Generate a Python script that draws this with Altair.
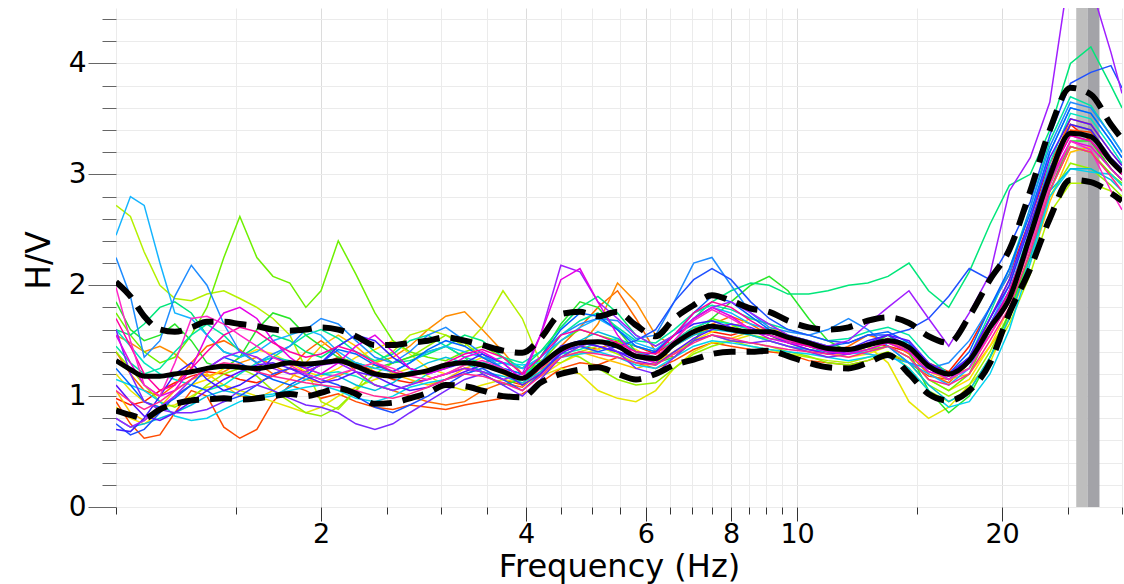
import altair as alt
import pandas as pd

# ---------------- data ----------------
FREQ = [1.0, 1.05, 1.1, 1.16, 1.22, 1.29, 1.36, 1.44, 1.52, 1.61,
        1.7, 1.8, 1.9, 2.0, 2.12, 2.25, 2.4, 2.55, 2.7, 2.87,
        3.05, 3.25, 3.45, 3.7, 3.95, 4.2, 4.5, 4.8, 5.1, 5.45,
        5.8, 6.2, 6.6, 7.05, 7.5, 8.0, 8.55, 9.1, 9.7, 10.4,
        11.1, 11.9, 12.7, 13.6, 14.6, 15.6, 16.7, 17.9, 19.2, 20.5,
        22.0, 23.5, 25.2, 27.0, 28.9, 30.0]

MEAN = [1.32, 1.24, 1.18, 1.18, 1.20, 1.22, 1.25, 1.27, 1.26, 1.25,
        1.27, 1.30, 1.29, 1.30, 1.32, 1.27, 1.20, 1.18, 1.20, 1.23,
        1.28, 1.30, 1.28, 1.22, 1.16, 1.28, 1.42, 1.48, 1.49, 1.45,
        1.36, 1.34, 1.47, 1.58, 1.63, 1.60, 1.58, 1.58, 1.53, 1.48,
        1.43, 1.42, 1.46, 1.50, 1.44, 1.27, 1.20, 1.32, 1.62, 1.88,
        2.45, 2.98, 3.37, 3.34, 3.12, 3.02]

UPPER = [2.03, 1.90, 1.72, 1.60, 1.58, 1.62, 1.67, 1.67, 1.65, 1.63,
         1.60, 1.59, 1.60, 1.62, 1.60, 1.54, 1.46, 1.46, 1.48, 1.50,
         1.53, 1.50, 1.46, 1.41, 1.39, 1.52, 1.74, 1.76, 1.72, 1.76,
         1.64, 1.54, 1.70, 1.82, 1.91, 1.86, 1.79, 1.76, 1.68, 1.62,
         1.60, 1.62, 1.68, 1.71, 1.66, 1.54, 1.48, 1.72, 2.05, 2.32,
         2.85, 3.40, 3.78, 3.72, 3.45, 3.32]

LOWER = [0.87, 0.83, 0.80, 0.88, 0.93, 0.96, 0.97, 0.98, 0.97, 0.98,
         1.00, 1.02, 1.00, 1.03, 1.07, 1.02, 0.93, 0.94, 0.98, 1.03,
         1.10, 1.09, 1.05, 1.00, 0.99, 1.12, 1.20, 1.24, 1.26, 1.20,
         1.15, 1.20, 1.28, 1.33, 1.38, 1.40, 1.40, 1.41, 1.36, 1.30,
         1.26, 1.25, 1.30, 1.37, 1.20, 1.02, 0.96, 1.05, 1.30, 1.75,
         2.15, 2.60, 2.95, 2.93, 2.83, 2.76]

W00 = [0.98, 0.92, 0.95, 1.05, 1.12, 1.18, 1.22, 1.20, 1.15, 1.12,
       1.18, 1.25, 1.22, 1.28, 1.35, 1.30, 1.22, 1.15, 1.12, 1.15,
       1.20, 1.25, 1.22, 1.15, 1.10, 1.25, 1.40, 1.45, 1.42, 1.50,
       1.45, 1.38, 1.50, 1.62, 1.58, 1.55, 1.60, 1.55, 1.50, 1.45,
       1.40, 1.42, 1.48, 1.45, 1.40, 1.30, 1.22, 1.45, 1.80, 2.10,
       2.60, 3.10, 3.45, 3.30, 3.05, 2.95]
W01 = [0.95, 0.75, 0.62, 0.65, 0.85, 1.05, 1.00, 0.72, 0.62, 0.70,
       0.95, 1.10, 1.05, 0.98, 1.02, 0.95, 0.90, 0.88, 0.92, 0.90,
       0.88, 0.92, 0.95, 0.98, 1.02, 1.12, 1.25, 1.30, 1.28, 1.35,
       1.30, 1.25, 1.32, 1.42, 1.48, 1.45, 1.42, 1.40, 1.38, 1.32,
       1.30, 1.28, 1.32, 1.38, 1.30, 1.18, 1.15, 1.30, 1.60, 1.95,
       2.45, 3.00, 3.40, 3.38, 3.10, 3.00]
W02 = [1.55, 1.48, 1.40, 1.45, 1.38, 1.25, 1.18, 1.22, 1.30, 1.35,
       1.28, 1.20, 1.15, 1.12, 1.18, 1.25, 1.30, 1.35, 1.45, 1.60,
       1.72, 1.76, 1.60, 1.40, 1.20, 1.25, 1.35, 1.45, 1.65, 2.02,
       1.85, 1.55, 1.45, 1.55, 1.62, 1.65, 1.60, 1.55, 1.50, 1.45,
       1.40, 1.38, 1.42, 1.48, 1.42, 1.28, 1.18, 1.25, 1.55, 1.85,
       2.35, 2.90, 3.45, 3.40, 3.15, 3.05]
W03 = [1.05, 0.85, 0.78, 0.90, 1.05, 1.15, 1.20, 1.10, 1.00, 0.98,
       1.05, 1.15, 1.30, 1.45, 1.55, 1.45, 1.30, 1.20, 1.15, 1.10,
       1.15, 1.25, 1.30, 1.20, 1.10, 1.20, 1.35, 1.40, 1.35, 1.30,
       1.25, 1.30, 1.40, 1.50, 1.55, 1.52, 1.58, 1.62, 1.55, 1.48,
       1.45, 1.40, 1.42, 1.48, 1.40, 1.22, 1.15, 1.20, 1.45, 1.70,
       2.20, 2.75, 3.20, 3.25, 3.05, 2.95]
W04 = [1.20, 1.05, 0.95, 0.90, 0.92, 1.00, 1.08, 1.10, 1.05, 1.00,
       0.95, 0.90, 0.85, 0.90, 1.00, 1.08, 1.15, 1.20, 1.25, 1.18,
       1.10, 1.05, 1.10, 1.15, 1.12, 1.18, 1.25, 1.20, 1.05, 0.98,
       0.95, 1.05, 1.25, 1.40, 1.48, 1.50, 1.55, 1.50, 1.45, 1.40,
       1.35, 1.38, 1.45, 1.30, 0.95, 0.80, 0.90, 1.10, 1.30, 1.70,
       2.30, 2.85, 3.25, 3.20, 3.00, 2.90]
W05 = [2.72, 2.62, 2.30, 2.00, 1.88, 1.86, 1.92, 1.95, 1.88, 1.80,
       1.70, 1.55, 1.25, 0.95, 0.88, 1.05, 1.30, 1.40, 1.55, 1.60,
       1.55, 1.45, 1.62, 1.95, 1.70, 1.30, 1.30, 1.40, 1.45, 1.38,
       1.30, 1.28, 1.40, 1.50, 1.55, 1.50, 1.45, 1.42, 1.38, 1.35,
       1.32, 1.30, 1.35, 1.40, 1.25, 1.05, 0.95, 1.05, 1.35, 1.65,
       2.10, 2.65, 2.92, 2.92, 2.85, 2.78]
W06 = [1.75, 1.55, 1.40, 1.30, 1.35, 1.55, 1.80, 2.25, 2.62, 2.25,
       2.08, 2.02, 1.80, 1.95, 2.40, 2.10, 1.75, 1.50, 1.40, 1.35,
       1.32, 1.40, 1.45, 1.35, 1.20, 1.30, 1.50, 1.60, 1.55, 1.50,
       1.40, 1.35, 1.45, 1.60, 1.70, 1.65, 1.55, 1.52, 1.50, 1.45,
       1.40, 1.38, 1.42, 1.45, 1.35, 1.15, 1.05, 1.20, 1.60, 1.90,
       2.40, 2.95, 3.25, 3.20, 3.00, 2.92]
W07 = [1.85, 1.60, 1.50, 1.55, 1.65, 1.50, 1.30, 1.25, 1.35, 1.60,
       1.75, 1.70, 1.55, 1.45, 1.35, 1.30, 1.25, 1.30, 1.35, 1.40,
       1.45, 1.35, 1.20, 1.10, 1.15, 1.35, 1.65, 1.85, 1.80, 1.60,
       1.40, 1.30, 1.35, 1.50, 1.70, 1.85, 2.00, 2.08, 1.95, 1.70,
       1.50, 1.40, 1.45, 1.55, 1.40, 1.05, 0.85, 1.00, 1.35, 1.75,
       2.30, 2.85, 3.30, 3.30, 3.05, 2.95]
W08 = [1.60, 1.55, 1.65, 1.80, 1.85, 1.75, 1.55, 1.40, 1.35, 1.45,
       1.55, 1.50, 1.40, 1.35, 1.45, 1.55, 1.40, 1.30, 1.32, 1.38,
       1.45, 1.55, 1.50, 1.35, 1.25, 1.40, 1.62, 1.80, 1.90, 1.75,
       1.55, 1.45, 1.55, 1.70, 1.85, 1.95, 2.02, 2.00, 1.92, 1.92,
       1.95, 2.00, 2.02, 2.08, 2.20, 1.95, 1.80, 2.12, 2.55, 2.90,
       3.00, 3.40, 4.00, 4.15, 3.80, 3.60]
W09 = [1.60, 1.45, 1.30, 1.20, 1.15, 1.10, 1.05, 1.10, 1.20, 1.30,
       1.35, 1.32, 1.25, 1.20, 1.22, 1.18, 1.10, 1.05, 1.10, 1.20,
       1.28, 1.32, 1.30, 1.25, 1.20, 1.28, 1.38, 1.42, 1.48, 1.52,
       1.45, 1.40, 1.50, 1.62, 1.68, 1.65, 1.60, 1.58, 1.55, 1.50,
       1.45, 1.42, 1.45, 1.52, 1.48, 1.30, 1.15, 1.25, 1.60, 1.95,
       2.50, 3.10, 3.55, 3.50, 3.25, 3.10]
W10 = [1.15, 1.10, 1.05, 0.95, 0.82, 0.78, 0.80, 0.88, 0.95, 1.00,
       1.02, 1.05, 1.08, 1.10, 1.05, 0.98, 0.95, 1.00, 1.08, 1.12,
       1.15, 1.20, 1.25, 1.30, 1.28, 1.30, 1.35, 1.38, 1.40, 1.35,
       1.28, 1.25, 1.35, 1.45, 1.50, 1.48, 1.45, 1.42, 1.40, 1.38,
       1.35, 1.32, 1.35, 1.38, 1.25, 1.05, 0.90, 0.95, 1.20, 1.60,
       2.20, 2.80, 3.05, 3.02, 3.00, 2.90]
W11 = [2.45, 2.80, 2.72, 2.20, 1.75, 1.70, 1.55, 1.40, 1.35, 1.40,
       1.50, 1.55, 1.60, 1.55, 1.40, 1.30, 1.25, 1.22, 1.30, 1.40,
       1.45, 1.40, 1.35, 1.30, 1.25, 1.35, 1.50, 1.62, 1.70, 1.60,
       1.48, 1.42, 1.55, 1.70, 1.80, 1.75, 1.65, 1.60, 1.55, 1.50,
       1.45, 1.40, 1.38, 1.35, 1.30, 1.20, 1.10, 1.25, 1.65, 2.00,
       2.60, 3.20, 3.60, 3.55, 3.30, 3.15]
W12 = [2.25, 1.90, 1.35, 1.50, 1.90, 2.18, 2.00, 1.65, 1.40, 1.30,
       1.38, 1.45, 1.60, 1.70, 1.65, 1.50, 1.35, 1.30, 1.40, 1.55,
       1.62, 1.50, 1.38, 1.25, 1.15, 1.30, 1.55, 1.65, 1.70, 1.68,
       1.52, 1.55, 1.85, 2.20, 2.25, 2.00, 1.75, 1.62, 1.58, 1.55,
       1.60, 1.70, 1.60, 1.45, 1.30, 1.25, 1.30, 1.50, 1.80, 2.10,
       2.70, 3.25, 3.65, 3.60, 3.35, 3.20]
W13 = [0.75, 0.65, 0.70, 0.85, 1.00, 1.10, 1.05, 0.95, 1.00, 1.10,
       1.20, 1.25, 1.20, 1.15, 1.10, 1.00, 0.90, 0.85, 0.92, 1.00,
       1.10, 1.20, 1.25, 1.15, 1.05, 1.20, 1.40, 1.45, 1.40, 1.45,
       1.50, 1.60, 1.85, 2.05, 2.15, 2.05, 1.85, 1.70, 1.60, 1.55,
       1.50, 1.48, 1.55, 1.55, 1.60, 1.70, 1.90, 2.15, 2.05, 2.35,
       2.75, 3.35, 3.82, 3.92, 3.98, 3.78]
W14 = [0.70, 0.68, 0.80, 1.00, 1.20, 1.30, 1.15, 1.05, 1.10, 1.20,
       1.35, 1.30, 1.25, 1.30, 1.45, 1.55, 1.50, 1.35, 1.25, 1.20,
       1.25, 1.30, 1.38, 1.30, 1.15, 1.25, 1.45, 1.50, 1.45, 1.40,
       1.35, 1.40, 1.55, 1.65, 1.68, 1.62, 1.58, 1.55, 1.50, 1.45,
       1.40, 1.42, 1.50, 1.55, 1.45, 1.25, 1.18, 1.35, 1.70, 2.00,
       2.55, 3.05, 3.45, 3.40, 3.15, 3.05]
W15 = [1.60, 1.20, 0.95, 0.88, 0.85, 0.85, 0.88, 0.95, 1.05, 1.10,
       1.05, 0.98, 0.92, 0.90, 0.85, 0.75, 0.70, 0.75, 0.85, 0.95,
       1.05, 1.15, 1.20, 1.10, 1.00, 1.15, 1.35, 1.45, 1.50, 1.40,
       1.25, 1.20, 1.35, 1.50, 1.55, 1.50, 1.48, 1.50, 1.45, 1.40,
       1.35, 1.38, 1.45, 1.52, 1.45, 1.25, 1.15, 1.30, 1.65, 1.95,
       2.45, 3.00, 3.35, 3.30, 3.10, 3.00]
W16 = [0.80, 0.72, 0.78, 0.90, 1.00, 1.15, 1.25, 1.35, 1.40, 1.35,
       1.25, 1.20, 1.22, 1.28, 1.30, 1.22, 1.10, 1.05, 1.10, 1.15,
       1.20, 1.25, 1.22, 1.15, 1.20, 1.55, 2.18, 2.12, 1.85, 1.70,
       1.55, 1.45, 1.55, 1.70, 1.80, 1.85, 1.75, 1.65, 1.55, 1.50,
       1.45, 1.50, 1.65, 1.80, 1.95, 1.70, 1.45, 1.75, 2.10, 2.85,
       3.15, 3.65, 4.90, 4.70, 4.10, 3.73]
W17 = [1.55, 1.30, 1.10, 1.00, 1.05, 1.25, 1.55, 1.75, 1.80, 1.70,
       1.50, 1.35, 1.25, 1.20, 1.30, 1.45, 1.55, 1.40, 1.25, 1.20,
       1.25, 1.35, 1.40, 1.30, 1.15, 1.55, 2.05, 2.15, 1.85, 1.55,
       1.35, 1.30, 1.50, 1.70, 1.80, 1.72, 1.60, 1.52, 1.48, 1.45,
       1.40, 1.38, 1.42, 1.48, 1.40, 1.22, 1.18, 1.30, 1.55, 1.85,
       2.40, 2.95, 3.30, 3.25, 3.05, 2.95]
W18 = [1.98, 1.50, 1.10, 1.00, 1.30, 1.70, 1.72, 1.65, 1.55, 1.45,
       1.35, 1.28, 1.20, 1.15, 1.20, 1.25, 1.30, 1.25, 1.18, 1.15,
       1.20, 1.28, 1.32, 1.25, 1.15, 1.25, 1.40, 1.48, 1.50, 1.45,
       1.38, 1.35, 1.50, 1.68, 1.78, 1.70, 1.60, 1.55, 1.50, 1.48,
       1.42, 1.40, 1.45, 1.50, 1.42, 1.25, 1.15, 1.25, 1.55, 1.85,
       2.35, 2.90, 3.30, 3.22, 2.85, 2.68]
W19 = [1.05, 0.95, 0.88, 0.95, 1.05, 1.15, 1.25, 1.30, 1.28, 1.22,
       1.18, 1.15, 1.12, 1.10, 1.08, 1.05, 1.00, 0.98, 1.02, 1.08,
       1.15, 1.20, 1.18, 1.12, 1.05, 1.18, 1.35, 1.40, 1.38, 1.35,
       1.30, 1.28, 1.38, 1.48, 1.55, 1.52, 1.48, 1.45, 1.42, 1.40,
       1.38, 1.35, 1.40, 1.45, 1.35, 1.15, 1.10, 1.20, 1.50, 1.80,
       2.30, 2.85, 3.25, 3.20, 2.98, 2.85]
W20 = [1.40, 1.20, 1.05, 1.00, 1.10, 1.30, 1.45, 1.50, 1.42, 1.30,
       1.20, 1.25, 1.40, 1.50, 1.38, 1.22, 1.10, 1.05, 1.00, 0.95,
       0.92, 0.95, 1.05, 1.12, 1.08, 1.22, 1.45, 1.62, 1.80, 1.95,
       1.70, 1.40, 1.35, 1.50, 1.65, 1.72, 1.65, 1.55, 1.48, 1.42,
       1.38, 1.45, 1.55, 1.50, 1.38, 1.20, 1.12, 1.30, 1.70, 2.05,
       2.55, 3.05, 3.50, 3.45, 3.20, 3.08]
W21 = [0.90, 0.80, 0.75, 0.85, 1.00, 1.10, 1.15, 1.25, 1.35, 1.42,
       1.38, 1.30, 1.22, 1.18, 1.25, 1.35, 1.42, 1.50, 1.38, 1.25,
       1.20, 1.28, 1.35, 1.25, 1.10, 1.18, 1.30, 1.38, 1.42, 1.48,
       1.42, 1.32, 1.38, 1.50, 1.58, 1.62, 1.70, 1.65, 1.55, 1.45,
       1.40, 1.35, 1.38, 1.45, 1.35, 1.15, 1.05, 1.15, 1.45, 1.80,
       2.30, 2.85, 3.25, 3.20, 3.00, 2.90]
W22 = [1.40, 1.25, 1.10, 0.95, 0.90, 0.98, 1.10, 1.20, 1.25, 1.18,
       1.05, 0.95, 0.85, 0.82, 0.90, 1.05, 1.20, 1.30, 1.35, 1.45,
       1.55, 1.48, 1.35, 1.30, 1.25, 1.32, 1.40, 1.35, 1.25, 1.15,
       1.10, 1.12, 1.25, 1.38, 1.45, 1.50, 1.48, 1.45, 1.40, 1.36,
       1.30, 1.28, 1.32, 1.40, 1.30, 1.10, 1.00, 1.10, 1.40, 1.75,
       2.25, 2.80, 3.10, 3.05, 2.90, 2.80]
W23 = [1.45, 1.30, 1.20, 1.25, 1.40, 1.55, 1.65, 1.55, 1.40, 1.30,
       1.35, 1.45, 1.55, 1.60, 1.52, 1.40, 1.32, 1.38, 1.50, 1.55,
       1.45, 1.35, 1.30, 1.35, 1.30, 1.40, 1.55, 1.68, 1.75, 1.62,
       1.50, 1.48, 1.60, 1.75, 1.82, 1.78, 1.70, 1.65, 1.60, 1.55,
       1.50, 1.52, 1.58, 1.62, 1.55, 1.35, 1.20, 1.35, 1.75, 2.15,
       2.70, 3.30, 3.70, 3.62, 3.35, 3.20]
W24 = [0.80, 0.72, 0.75, 0.80, 0.85, 0.92, 1.00, 1.05, 1.02, 0.98,
       1.00, 1.08, 1.15, 1.20, 1.18, 1.10, 1.05, 1.12, 1.22, 1.30,
       1.35, 1.30, 1.22, 1.18, 1.12, 1.22, 1.38, 1.50, 1.58, 1.52,
       1.40, 1.35, 1.45, 1.55, 1.60, 1.58, 1.55, 1.50, 1.45, 1.42,
       1.40, 1.38, 1.40, 1.45, 1.30, 1.10, 0.95, 1.05, 1.35, 1.70,
       2.25, 2.85, 3.05, 3.05, 2.95, 2.85]
W25 = [1.25, 1.10, 0.95, 0.90, 0.98, 1.10, 1.25, 1.35, 1.30, 1.22,
       1.15, 1.10, 1.18, 1.30, 1.42, 1.38, 1.28, 1.22, 1.30, 1.42,
       1.50, 1.45, 1.35, 1.25, 1.20, 1.35, 1.60, 1.75, 1.72, 1.60,
       1.45, 1.40, 1.55, 1.75, 1.90, 1.85, 1.72, 1.60, 1.52, 1.48,
       1.45, 1.48, 1.55, 1.58, 1.48, 1.28, 1.20, 1.40, 1.80, 2.15,
       2.65, 3.20, 3.60, 3.55, 3.30, 3.15]
W26 = [1.10, 0.95, 0.82, 0.78, 0.85, 0.95, 1.05, 1.15, 1.22, 1.28,
       1.30, 1.25, 1.18, 1.12, 1.15, 1.22, 1.18, 1.10, 1.05, 1.08,
       1.15, 1.22, 1.28, 1.22, 1.10, 1.20, 1.38, 1.48, 1.45, 1.40,
       1.32, 1.28, 1.40, 1.52, 1.60, 1.65, 1.62, 1.55, 1.48, 1.42,
       1.38, 1.40, 1.48, 1.55, 1.50, 1.30, 1.20, 1.35, 1.70, 2.05,
       2.60, 3.15, 3.50, 3.45, 3.20, 3.08]
W27 = [1.70, 1.45, 1.20, 1.05, 1.10, 1.25, 1.40, 1.55, 1.62, 1.58,
       1.48, 1.40, 1.35, 1.38, 1.45, 1.40, 1.30, 1.22, 1.18, 1.22,
       1.30, 1.38, 1.42, 1.35, 1.20, 1.35, 1.55, 1.60, 1.55, 1.48,
       1.40, 1.38, 1.55, 1.75, 1.85, 1.80, 1.68, 1.58, 1.50, 1.45,
       1.42, 1.40, 1.45, 1.52, 1.45, 1.25, 1.18, 1.30, 1.60, 1.95,
       2.45, 3.00, 3.35, 3.30, 3.10, 3.00]

WINDOWS = [W00, W01, W20, W02, W03, W21, W04, W05, W22, W06,
           W07, W08, W23, W09, W10, W24, W11, W12, W25, W13,
           W14, W26, W15, W16, W17, W27, W18, W19]
COLORS = ["#ff2000", "#ff4a00", "#ff6a00", "#ff8c00", "#ffc000",
          "#ffe000", "#e6e600", "#b4f000", "#96f000", "#6ef000",
          "#28e628", "#00e67a", "#00e6a0", "#00e6c0", "#00d2f0",
          "#00bedc", "#14b4ff", "#1e8cff", "#0064ff", "#1e50ff",
          "#3c1eff", "#5a14ff", "#7828ff", "#a01eff", "#e600e6",
          "#ff00a0", "#ff28c8", "#ff2890"]

BAND_STARTS = [25.7, 26.7]
BAND_ENDS = [26.7, 27.8]
BAND_COLORS = ["#bebebe", "#a3a3a8"]

X_TICKS = [1, 1.5, 2, 2.5, 3, 3.5, 4, 4.5, 5, 5.5, 6, 6.5, 7, 7.5, 8, 8.5,
           9, 9.5, 10, 15, 20, 25, 30]
X_LABELED = [2, 4, 6, 8, 10, 20]
Y_TICKS = [0, 0.2, 0.4, 0.6, 0.8, 1, 1.2, 1.4, 1.6, 1.8, 2, 2.2, 2.4, 2.6,
           2.8, 3, 3.2, 3.4, 3.6, 3.8, 4, 4.2, 4.4]

# ---------------- tables ----------------
names = [f"w{i:02d}" for i in range(len(WINDOWS))]
rows = []
for name, vals in zip(names, WINDOWS):
    assert len(vals) == len(FREQ), name
    for f, v in zip(FREQ, vals):
        rows.append({"f": f, "v": v, "win": name})
df = pd.DataFrame(rows)

stat_rows = []
for kind, vals in (("upper", UPPER), ("lower", LOWER), ("mean", MEAN)):
    assert len(vals) == len(FREQ), kind
    for f, v in zip(FREQ, vals):
        stat_rows.append({"f": f, "v": v, "kind": kind})
sdf = pd.DataFrame(stat_rows)

band = pd.DataFrame({"f": BAND_STARTS, "f2": BAND_ENDS, "c": ["a", "b"]})

# ---------------- axes ----------------
lab_arr = "[" + ",".join(str(v) for v in X_LABELED) + "]"
is_lab = f"indexof({lab_arr}, datum.value) >= 0"
FONT = "DejaVu Sans"

x_axis = alt.Axis(
    values=X_TICKS,
    labelExpr=f"{is_lab} ? '' + datum.value : ''",
    tickSize={"condition": {"test": is_lab, "value": 14}, "value": 7},
    tickColor="#333333",
    gridColor={"condition": {"test": is_lab, "value": "#dcdcdc"}, "value": "#ebebeb"},
    domain=False,
    labelFont=FONT, labelFontSize=27, labelColor="#000000",
    labelPadding=0, labelFlush=False, labelOverlap=False,
    title="Frequency (Hz)", titleFont=FONT, titleFontSize=32,
    titleFontWeight="normal", titleColor="#000000",
    titleBaseline="alphabetic", titleY=69,
)
y_int = "abs(datum.value - round(datum.value)) < 0.001"
y_axis = alt.Axis(
    values=Y_TICKS,
    labelExpr=f"{y_int} ? '' + round(datum.value) : ''",
    tickSize={"condition": {"test": y_int, "value": 28}, "value": 14},
    tickColor="#666666",
    gridColor="#ebebeb",
    domain=False,
    labelFont=FONT, labelFontSize=28, labelColor="#000000",
    labelPadding=2, labelOverlap=False, labelFlush=False,
    title="H/V", titleFont=FONT, titleFontSize=33,
    titleFontWeight="normal", titleColor="#000000",
    titleX=-60, titleY=252,
)

xscale = alt.Scale(type="log", domain=[1, 30], nice=False)
yscale = alt.Scale(domain=[0, 4.5], nice=False)

band_layer = alt.Chart(band).mark_rect(clip=True).encode(
    x=alt.X("f:Q", scale=xscale, axis=x_axis),
    x2="f2:Q",
    color=alt.Color("c:N", scale=alt.Scale(domain=["a", "b"], range=BAND_COLORS), legend=None),
)

win_layer = alt.Chart(df).mark_line(strokeWidth=1.5, clip=True).encode(
    x=alt.X("f:Q", scale=xscale, axis=x_axis),
    y=alt.Y("v:Q", scale=yscale, axis=y_axis),
    stroke=alt.Stroke("win:N", scale=alt.Scale(domain=names, range=COLORS), legend=None),
    order=alt.Order("f:Q"),
)

dash_layer = alt.Chart(sdf).transform_filter(
    "datum.kind != 'mean'"
).mark_line(
    color="black", strokeWidth=6, strokeDash=[22, 11], strokeCap="butt",
    interpolate="monotone", clip=True
).encode(
    x=alt.X("f:Q", scale=xscale, axis=x_axis),
    y=alt.Y("v:Q", scale=yscale, axis=y_axis),
    detail="kind:N",
)

mean_layer = alt.Chart(sdf).transform_filter(
    "datum.kind == 'mean'"
).mark_line(
    color="black", strokeWidth=5, interpolate="monotone", clip=True
).encode(
    x=alt.X("f:Q", scale=xscale, axis=x_axis),
    y=alt.Y("v:Q", scale=yscale, axis=y_axis),
)

chart = alt.layer(band_layer, win_layer, dash_layer, mean_layer).resolve_scale(
    color="independent"
).properties(
    width=1006, height=499,
    autosize=alt.AutoSizeParams(type="none"),
    padding={"left": 116, "top": 8, "right": 2, "bottom": 77},
    background="white",
).configure_view(stroke=None)

chart.save("out.html", embed_options={"renderer": "svg", "actions": False})
